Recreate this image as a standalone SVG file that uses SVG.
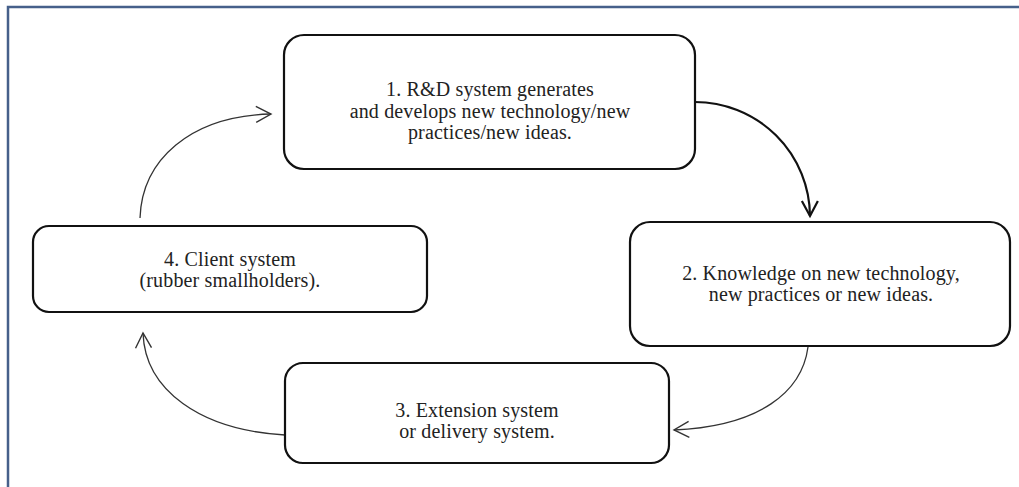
<svg xmlns="http://www.w3.org/2000/svg" width="1019" height="487" viewBox="0 0 1019 487">
<style>
.box{fill:#fff;stroke:#111;stroke-width:2.2}
.t{font-family:"Liberation Serif","Times New Roman",serif;font-size:20px;letter-spacing:0.15px;fill:#222;text-anchor:middle}
.thin{fill:none;stroke:#333;stroke-width:1.3}
.thick{fill:none;stroke:#111;stroke-width:2.2}
</style>
<defs>
<marker id="ah" markerUnits="userSpaceOnUse" markerWidth="30" markerHeight="30" viewBox="-20 -15 30 30" refX="0" refY="0" orient="auto">
<path d="M -15 -8 L 0 0 L -15 8" fill="none" stroke="#333" stroke-width="1.4"/>
</marker>
<marker id="ahk" markerUnits="userSpaceOnUse" markerWidth="30" markerHeight="30" viewBox="-20 -15 30 30" refX="0" refY="0" orient="auto">
<path d="M -15 -8 L 0 0 L -15 8" fill="none" stroke="#111" stroke-width="2.2"/>
</marker>
</defs>
<rect width="1019" height="487" fill="#fff"/>
<rect x="8" y="7" width="1030" height="500" fill="none" stroke="#46608a" stroke-width="2.5"/>
<g id="connectors">
<path class="thick" d="M 695 102 A 115 115 0 0 1 810 216" marker-end="url(#ahk)"/>
<path class="thin" d="M 808 347 C 802 392, 760 426, 674 430" marker-end="url(#ah)"/>
<path class="thin" d="M 285 435 C 200 430, 145 390, 143 333" marker-end="url(#ah)"/>
<path class="thin" d="M 140 218 C 142 160, 190 116, 271 114" marker-end="url(#ah)"/>
</g>
<g id="node1">
<rect class="box" x="284" y="35" width="411" height="134" rx="20"/>
<text class="t" x="490" y="96">1. R&amp;D system generates</text>
<text class="t" x="490" y="117.5">and develops new technology/new</text>
<text class="t" x="490" y="139">practices/new ideas.</text>
</g>
<g id="node2">
<rect class="box" x="630" y="222" width="380" height="124" rx="20"/>
<text class="t" x="821" y="280">2. Knowledge on new technology,</text>
<text class="t" x="821" y="301">new practices or new ideas.</text>
</g>
<g id="node3">
<rect class="box" x="285" y="363" width="384" height="100" rx="18"/>
<text class="t" x="477" y="416.5">3. Extension system</text>
<text class="t" x="477" y="437.5">or delivery system.</text>
</g>
<g id="node4">
<rect class="box" x="33" y="226" width="394" height="86" rx="16"/>
<text class="t" x="230" y="266">4. Client system</text>
<text class="t" x="230" y="287">(rubber smallholders).</text>
</g>
</svg>
